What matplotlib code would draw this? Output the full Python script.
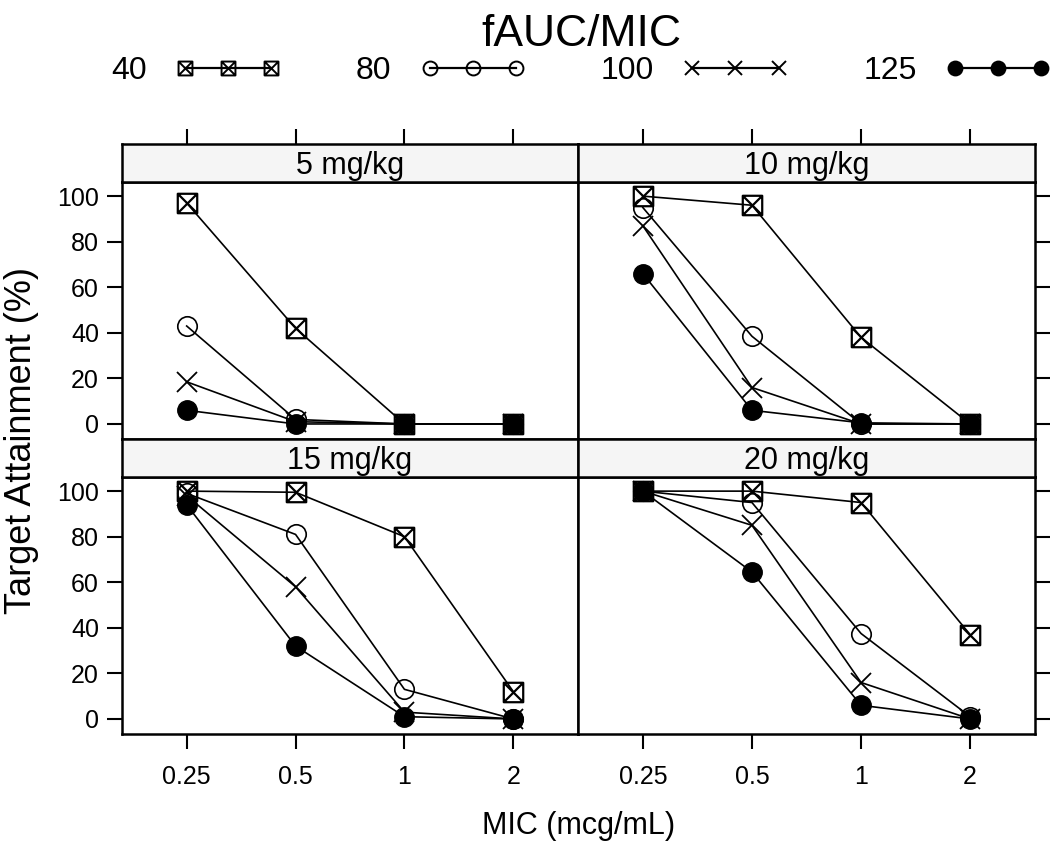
import matplotlib
matplotlib.use('Agg')
import matplotlib.pyplot as plt
from matplotlib.path import Path
from matplotlib.lines import Line2D

plt.rcParams['font.family'] = ['Liberation Sans', 'DejaVu Sans']

mic_values = [0.25, 0.5, 1, 2]
mic_labels = ['0.25', '0.5', '1', '2']
fauc_targets = ['40', '80', '100', '125']
dose_labels = ['5 mg/kg', '10 mg/kg', '15 mg/kg', '20 mg/kg']

# target attainment (%) for each fAUC/MIC target (rows: 40, 80, 100, 125)
ta_5mg = [[97, 42, 0, 0], [43, 2, 0, 0], [18.5, 1, 0, 0], [6, 0, 0, 0]]
ta_10mg = [[100, 96, 38, 0], [95, 38.5, 0, 0], [87, 16, 0, 0], [66, 6, 0.5, 0]]
ta_15mg = [[100, 99.5, 80, 12], [99, 81, 13, 0], [98, 58, 3, 0], [94, 32, 1, 0]]
ta_20mg = [[100, 100, 95, 37], [100, 95, 37.5, 1], [100, 85, 16, 0], [100, 64.5, 6, 0]]
panel_data = [ta_5mg, ta_10mg, ta_15mg, ta_20mg]

W, H = 1050, 846
fig = plt.figure(figsize=(W / 100, H / 100), dpi=100)


def rect(l, t, r, b):
    return [l / W, 1 - b / H, (r - l) / W, (b - t) / H]


boxx = Path([(-1, -1), (1, -1), (1, 1), (-1, 1), (-1, -1), (-1, -1), (1, 1), (-1, 1), (1, -1)],
            [Path.MOVETO, Path.LINETO, Path.LINETO, Path.LINETO, Path.CLOSEPOLY,
             Path.MOVETO, Path.LINETO, Path.MOVETO, Path.LINETO])

styles = [
    dict(marker=boxx, ms=14, mfc='none', mec='black', mew=1.6),
    dict(marker='o', ms=14, mfc='none', mec='black', mew=1.2),
    dict(marker='x', ms=15, mfc='none', mec='black', mew=1.3),
    dict(marker='o', ms=14, mfc='black', mec='black', mew=1.0),
]

xl = (2 ** -2.594, 2 ** 1.594)
yl = (-6.6, 106.2)
tick_len = 10.5
tick_w = 1.5
border_w = 1.8

cols = [(122, 578), (578, 1035)]
rows = [(144, 182, 439), (439, 477, 734)]

for i, (dose, data) in enumerate(zip(dose_labels, panel_data)):
    r, c = divmod(i, 2)
    l, rr = cols[c]
    st, sb, pb = rows[r]
    ax = fig.add_axes(rect(l, sb, rr, pb))
    sx = fig.add_axes(rect(l, st, rr, sb))
    for a in (ax, sx):
        a.set_xscale('log', base=2)
        a.set_xlim(*xl)
        a.minorticks_off()
        for s in a.spines.values():
            s.set_linewidth(border_w)
    ax.set_ylim(*yl)
    for k, series in enumerate(data):
        ax.plot(mic_values, series, color='black', lw=1.2, **styles[k])
    ax.set_xticks(mic_values)
    ax.set_xticklabels(mic_labels)
    ax.set_yticks([0, 20, 40, 60, 80, 100])
    ax.tick_params(axis='both', direction='out', length=tick_len, width=tick_w,
                   labelsize=18, pad=6)
    ax.tick_params(axis='x', pad=12)
    if r == 0:
        ax.tick_params(axis='x', bottom=False, labelbottom=False)
    if c == 0:
        ax.tick_params(axis='y', left=True, labelleft=True, right=False)
    else:
        ax.tick_params(axis='y', left=False, labelleft=False, right=True, labelright=False)

    sx.set_facecolor('#f5f5f5')
    sx.set_ylim(0, 1)
    sx.set_yticks([])
    sx.set_xticks(mic_values)
    if r == 0:
        sx.tick_params(axis='x', bottom=False, labelbottom=False, top=True, labeltop=False,
                       direction='out', length=tick_len, width=tick_w)
    else:
        sx.tick_params(axis='x', bottom=False, labelbottom=False, top=False, labeltop=False)
    sx.text(0.5, 0.42, dose, transform=sx.transAxes, ha='center', va='center', fontsize=22)

fig.text(579 / W, 1 - 826 / H, 'MIC (mcg/mL)', ha='center', va='center', fontsize=22)
fig.text(22 / W, 1 - 441 / H, 'Target Attainment (%)', ha='center', va='center',
         rotation=90, fontsize=26)

handles = []
for k in range(4):
    st = dict(styles[k])
    st['ms'] = 10
    st['mew'] = 1.4
    handles.append(Line2D([], [], color='black', lw=1.6, **st))
leg = fig.legend(handles, fauc_targets, loc='center', bbox_to_anchor=(581 / W, 1 - 50 / H),
                 ncol=4, frameon=False, markerfirst=False, numpoints=3, fontsize=23,
                 handlelength=3.3, handletextpad=0.9, columnspacing=2.35,
                 title='fAUC/MIC', title_fontsize=32, borderpad=0, labelspacing=0)
leg._legend_box.sep = 1

fig.savefig('out.png', dpi=100)
